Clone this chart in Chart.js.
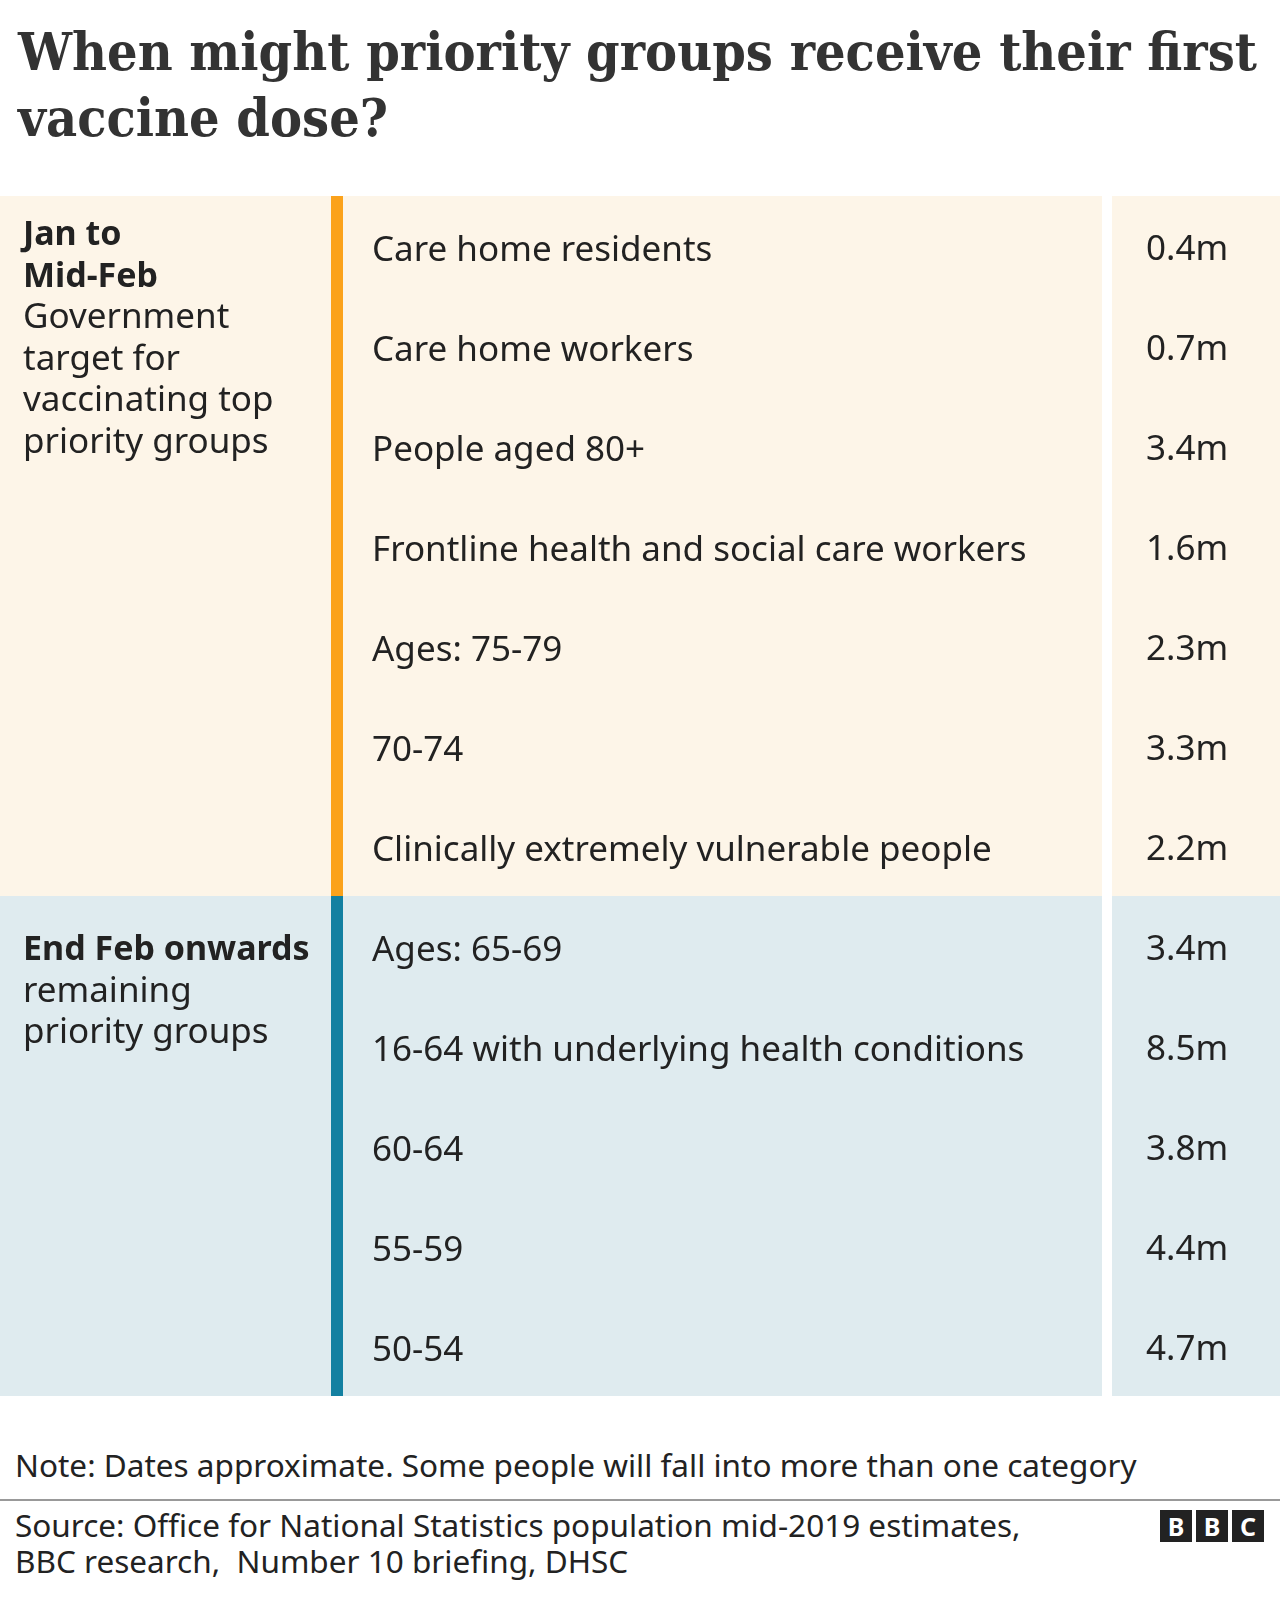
<!DOCTYPE html>
<html>
<head>
<meta charset="utf-8">
<script src="https://cdn.jsdelivr.net/npm/chart.js@4.4.1/dist/chart.umd.min.js"></script>
<style>
    body { margin: 0; background: #fff; }
    #page { position: relative; width: 1280px; height: 1598px; overflow: hidden; font-family: "Noto Sans", sans-serif; color: #222; }
    #title { position: absolute; left: 18px; top: 19px; font: bold 52px "DejaVu Serif", serif; line-height: 66px; color: #333; white-space: nowrap; }
    #title div { transform-origin: 0 0; }
    #table { position: absolute; left: 0; top: 196px; }
    .foot { position: absolute; left: 15px; font-size: 31.5px; line-height: 36px; white-space: nowrap; color: #222; }
    #rule { position: absolute; left: 0; top: 1499px; width: 1280px; height: 2px; background: #999; }
    #logo { position: absolute; left: 1160px; top: 1510px; display: flex; gap: 4px; }
    #logo span { width: 32px; height: 32px; background: #222; color: #fff; font: bold 25px "Noto Sans", sans-serif; line-height: 32px; text-align: center; }
</style>
</head>
<body>
<div id="page">
    <div id="title">
        <div class="tl">When might priority groups receive their first</div>
        <div class="tl">vaccine dose?</div>
    </div>
    <canvas id="table" width="1280" height="1200"></canvas>
    <div class="foot" style="top:1447px">Note: Dates approximate. Some people will fall into more than one category</div>
    <div id="rule"></div>
    <div class="foot" style="top:1507px">Source: Office for National Statistics population mid-2019 estimates,<br>BBC research,&nbsp; Number 10 briefing, DHSC</div>
    <div id="logo"><span>B</span><span>B</span><span>C</span></div>
</div>
<script>
// Priority groups, top to bottom
const groups = [
    'Care home residents',
    'Care home workers',
    'People aged 80+',
    'Frontline health and social care workers',
    'Ages: 75-79',
    '70-74',
    'Clinically extremely vulnerable people',
    'Ages: 65-69',
    '16-64 with underlying health conditions',
    '60-64',
    '55-59',
    '50-54'
];
// People in each group (millions)
const sizes = [0.4, 0.7, 3.4, 1.6, 2.3, 3.3, 2.2, 3.4, 8.5, 3.8, 4.4, 4.7];
// Which phase each group falls in
const phaseOf = [0, 0, 0, 0, 0, 0, 0, 1, 1, 1, 1, 1];
const phaseTitles = [['Jan to', 'Mid-Feb'], ['End Feb onwards']];
const phaseNotes = [
    ['Government', 'target for', 'vaccinating top', 'priority groups'],
    ['remaining', 'priority groups']
];

// Look of the table
const phaseFill = ['#fdf5e8', '#dfebef'];
const phaseAccent = ['#fba21b', '#1380a1'];
const phaseTextShift = [-1, 14];   // first baseline relative to first row centre
const cols = { leftEnd: 331, accentEnd: 343, midEnd: 1102, rightStart: 1112, textX: 23, valueX: 1146 };
const FONT = '"Noto Sans", sans-serif';

// Fit the title to the width it has in the original
(function fitTitle() {
    const lines = document.querySelectorAll('#title .tl');
    const w = lines[0].getBoundingClientRect().width;
    const k = 1239 / w;
    lines.forEach(l => { l.style.transform = `scaleX(${k})`; });
})();

// Backgrounds, phase text and values, placed with the y scale
const tablePlugin = {
    id: 'vaccineTable',
    beforeDraw(chart) {
        const { ctx, scales: { y } } = chart;
        const step = y.getPixelForValue(1) - y.getPixelForValue(0);
        phaseTitles.forEach((t, p) => {
            const idx = phaseOf.map((v, i) => v === p ? i : -1).filter(i => i >= 0);
            const top = y.getPixelForValue(idx[0]) - step / 2;
            const bottom = y.getPixelForValue(idx[idx.length - 1]) + step / 2;
            ctx.save();
            ctx.fillStyle = phaseFill[p];
            ctx.fillRect(0, top, cols.leftEnd, bottom - top);
            ctx.fillRect(cols.accentEnd, top, cols.midEnd - cols.accentEnd, bottom - top);
            ctx.fillRect(cols.rightStart, top, chart.width - cols.rightStart, bottom - top);
            ctx.fillStyle = phaseAccent[p];
            ctx.fillRect(cols.leftEnd, top, cols.accentEnd - cols.leftEnd, bottom - top);
            ctx.restore();
        });
    },
    afterDraw(chart) {
        const { ctx, scales: { y } } = chart;
        ctx.save();
        ctx.fillStyle = '#222';
        ctx.textBaseline = 'alphabetic';
        ctx.textAlign = 'left';
        phaseTitles.forEach((t, p) => {
            const first = phaseOf.indexOf(p);
            let by = y.getPixelForValue(first) + phaseTextShift[p];
            ctx.font = `bold 34px ${FONT}`;
            t.forEach(line => { ctx.fillText(line, cols.textX, by); by += 41.6; });
            ctx.font = `35px ${FONT}`;
            phaseNotes[p].forEach(line => { ctx.fillText(line, cols.textX, by); by += 41.6; });
        });
        // values, one per bar element
        const meta = chart.getDatasetMeta(0);
        ctx.font = `35px ${FONT}`;
        ctx.textBaseline = 'middle';
        meta.data.forEach((bar, i) => {
            ctx.fillText(chart.data.datasets[0].data[i] + 'm', cols.valueX, bar.y + 4);
        });
        ctx.restore();
    }
};

new Chart(document.getElementById('table').getContext('2d'), {
    type: 'bar',
    data: {
        labels: groups,
        datasets: [{
            label: 'People (millions)',
            data: sizes,
            backgroundColor: 'rgba(0,0,0,0)',
            borderWidth: 0
        }]
    },
    options: {
        indexAxis: 'y',
        responsive: false,
        animation: false,
        layout: { padding: 0 },
        plugins: {
            legend: { display: false },
            tooltip: { enabled: false }
        },
        scales: {
            x: { display: false, min: 0, max: 10 },
            y: {
                position: 'left',
                grid: { display: false },
                border: { display: false },
                ticks: {
                    mirror: true,
                    padding: 372,
                    labelOffset: 5,
                    crossAlign: 'near',
                    color: '#222',
                    font: { family: FONT, size: 35 }
                },
                afterFit(scale) {
                    scale.width = 0;
                    scale.paddingTop = 0;
                    scale.paddingBottom = 0;
                }
            }
        }
    },
    plugins: [tablePlugin]
});
</script>
</body>
</html>
